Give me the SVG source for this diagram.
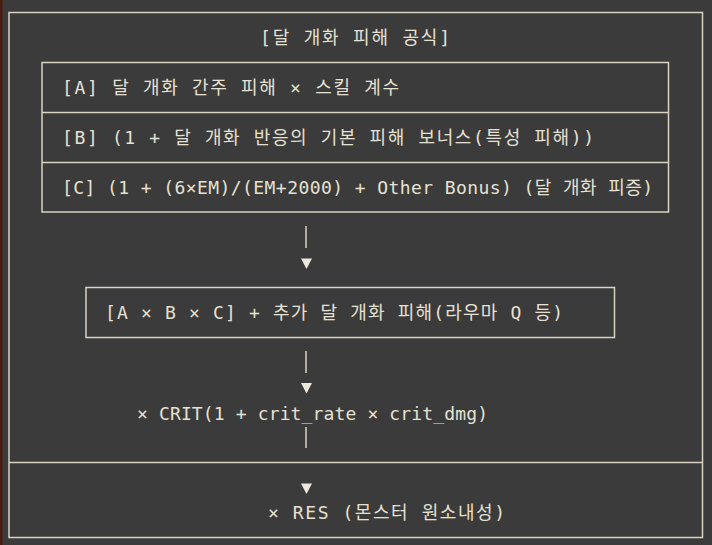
<svg xmlns="http://www.w3.org/2000/svg" width="712" height="545" viewBox="0 0 712 545">
<style>
.bg{fill:#3b3b3b}
.ln{stroke:#d8d3c2;stroke-width:1.5;fill:none}
.t{font-family:"DejaVu Sans Mono","Noto Sans CJK KR",monospace;font-size:18px;fill:#e6e1d2}
.tri{fill:#ece8dc}
</style>
<rect class="bg" x="0" y="0" width="712" height="545"/>
<rect x="0" y="0" width="2.5" height="545" fill="#4a1c10"/>
<g id="frame">
<path class="ln" d="M9 12.5 H702.5 V537.5 H9 Z"/>
<path class="ln" d="M9 462.5 H702.5"/>
<text class="t" x="260" y="44" textLength="190" lengthAdjust="spacing">[달 개화 피해 공식]</text>
</g>
<g id="node-abc">
<rect class="ln" x="42" y="62.5" width="626.5" height="149.5"/>
<path class="ln" d="M42 112.5 H668.5 M42 162.5 H668.5"/>
<text class="t" x="62" y="94" textLength="337" lengthAdjust="spacing">[A] 달 개화 간주 피해 × 스킬 계수</text>
<text class="t" x="62" y="144" textLength="532" lengthAdjust="spacing">[B] (1 + 달 개화 반응의 기본 피해 보너스(특성 피해))</text>
<text class="t" x="62" y="194" textLength="591" lengthAdjust="spacing">[C] (1 + (6×EM)/(EM+2000) + Other Bonus) (달 개화 피증)</text>
</g>
<g id="node-sum">
<rect class="ln" x="86" y="287.5" width="528.5" height="50"/>
<text class="t" x="105" y="319" textLength="458" lengthAdjust="spacing">[A × B × C] + 추가 달 개화 피해(라우마 Q 등)</text>
</g>
<g id="node-crit">
<text class="t" x="137" y="420" textLength="351" lengthAdjust="spacing">× CRIT(1 + crit_rate × crit_dmg)</text>
</g>
<g id="node-res">
<text class="t" x="268" y="519" textLength="237" lengthAdjust="spacing">× RES (몬스터 원소내성)</text>
</g>
<g id="connectors">
<path class="ln" d="M306 226 V248"/>
<polygon class="tri" points="301,258.5 312,258.5 306.5,269"/>
<path class="ln" d="M306 351 V373"/>
<polygon class="tri" points="301,383 312,383 306.5,393.5"/>
<path class="ln" d="M306 427 V448"/>
<polygon class="tri" points="301,483.5 312,483.5 306.5,494"/>
</g>
</svg>
